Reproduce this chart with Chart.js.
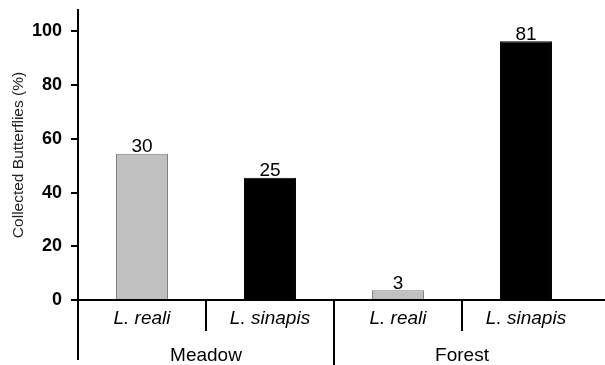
<!DOCTYPE html>
<html>
<head>
<meta charset="utf-8">
<script src="https://cdn.jsdelivr.net/npm/chart.js@4/dist/chart.umd.min.js"></script>
<style>
  html, body { margin: 0; padding: 0; background: #fff; }
  #wrap { width: 605px; height: 365px; }
</style>
</head>
<body>
<div id="wrap"><canvas id="butterflyChart"></canvas></div>
<script>
// data
const species = ['L. reali', 'L. sinapis', 'L. reali', 'L. sinapis'];
const habitats = ['Meadow', 'Forest'];
const habitatOfBar = [0, 0, 1, 1];
const percentCollected = [54.5, 45.5, 3.6, 96.4];
const countCollected = [30, 25, 3, 81];
const barColors = ['#c0c0c0', '#000000', '#c0c0c0', '#000000'];
const barBorders = ['#7f7f7f', '#000000', '#7f7f7f', '#000000'];

const FONT = 'Arial, "Liberation Sans", sans-serif';

// separators under the x axis + group names + counts above bars
const groupAxisPlugin = {
    id: 'groupAxis',
    afterDraw(chart) {
        const ctx = chart.ctx;
        const x = chart.scales.x;
        const area = chart.chartArea;
        const half = (x.getPixelForValue(1) - x.getPixelForValue(0)) / 2;
        const y0 = area.bottom;

        ctx.save();
        ctx.strokeStyle = '#000';
        ctx.lineWidth = 2;

        // x axis line, runs off to the right edge
        ctx.beginPath();
        ctx.moveTo(area.left - 7, y0);
        ctx.lineTo(chart.width, y0);
        ctx.stroke();

        // y axis continues down through the label rows
        ctx.beginPath();
        ctx.moveTo(area.left, y0);
        ctx.lineTo(area.left, 360);
        ctx.stroke();

        for (let i = 1; i < species.length; i++) {
            const px = x.getPixelForValue(i) - half;
            const groupEdge = habitatOfBar[i] !== habitatOfBar[i - 1];
            ctx.beginPath();
            ctx.moveTo(px, y0);
            ctx.lineTo(px, groupEdge ? 365 : 331);
            ctx.stroke();
        }

        // habitat names centred under their bars
        ctx.fillStyle = '#000';
        ctx.font = '19px ' + FONT;
        ctx.textAlign = 'center';
        ctx.textBaseline = 'alphabetic';
        habitats.forEach((h, g) => {
            const idx = habitatOfBar.map((v, i) => v === g ? i : -1).filter(i => i >= 0);
            const left = x.getPixelForValue(idx[0]) - half;
            const right = x.getPixelForValue(idx[idx.length - 1]) + half;
            ctx.fillText(h, (left + right) / 2, 361);
        });

        // counts above each bar
        const meta = chart.getDatasetMeta(0);
        meta.data.forEach((bar, i) => {
            ctx.fillText(String(countCollected[i]), bar.x, bar.y - 1.5);
        });
        ctx.restore();
    }
};

new Chart(document.getElementById('butterflyChart'), {
    type: 'bar',
    data: {
        labels: species,
        datasets: [{
            data: percentCollected,
            backgroundColor: barColors,
            borderColor: barBorders,
            borderWidth: 1,
            categoryPercentage: 1,
            barPercentage: 0.406
        }]
    },
    options: {
        responsive: true,
        maintainAspectRatio: false,
        animation: false,
        layout: { padding: { top: 10, right: 15, left: 0, bottom: 0 } },
        plugins: {
            legend: { display: false },
            tooltip: { enabled: false }
        },
        scales: {
            x: {
                type: 'category',
                grid: { display: false },
                border: { display: false },
                ticks: {
                    color: '#000',
                    padding: -1,
                    font: { family: FONT, size: 19, style: 'italic' }
                },
                afterFit(scale) { scale.height = 65; }
            },
            y: {
                min: 0,
                max: 108,
                grid: {
                    display: true,
                    drawOnChartArea: false,
                    drawTicks: true,
                    tickLength: 7,
                    color: '#000',
                    lineWidth: 2
                },
                border: { display: true, color: '#000', width: 2 },
                ticks: {
                    stepSize: 20,
                    includeBounds: false,
                    color: '#000',
                    padding: 9,
                    font: { family: FONT, size: 18, weight: 'bold' }
                },
                title: {
                    display: true,
                    text: 'Collected Butterflies (%)',
                    color: '#222',
                    padding: { top: 9, bottom: 0 },
                    font: { family: FONT, size: 15.5 }
                },
                afterFit(scale) {
                    scale.width = 78;
                    scale.paddingTop = 0;
                    scale.paddingBottom = 0;
                }
            }
        }
    },
    plugins: [groupAxisPlugin]
});
</script>
</body>
</html>
